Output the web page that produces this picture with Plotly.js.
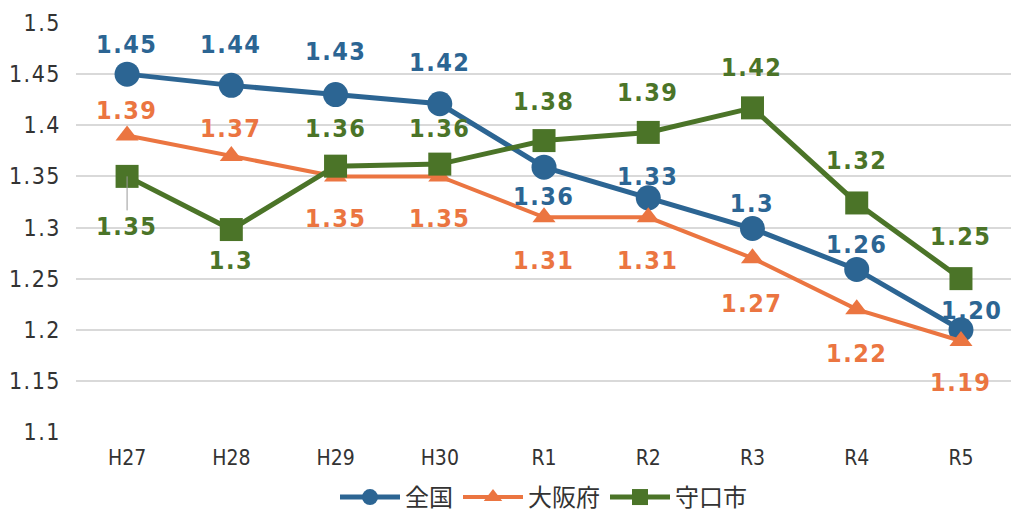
<!DOCTYPE html>
<html>
<head>
<meta charset="utf-8">
<script src="https://cdn.plot.ly/plotly-3.0.1.min.js"></script>
<style>
  html, body { margin: 0; padding: 0; background: #ffffff; }
  #chart { width: 1011px; height: 520px; }
  #chart .annotation-text, #chart .ytick text { letter-spacing: 1.5px; }
</style>
</head>
<body>
<div id="chart"></div>
<script>
const years = ["H27", "H28", "H29", "H30", "R1", "R2", "R3", "R4", "R5"];

// plotted values and the labels printed next to them
const zenkoku = [1.45, 1.439, 1.43, 1.421, 1.359, 1.329, 1.299, 1.259, 1.20];
const zenkokuText = ["1.45", "1.44", "1.43", "1.42", "1.36", "1.33", "1.3", "1.26", "1.20"];
const osaka = [1.39, 1.37, 1.35, 1.35, 1.31, 1.31, 1.27, 1.22, 1.189];
const osakaText = ["1.39", "1.37", "1.35", "1.35", "1.31", "1.31", "1.27", "1.22", "1.19"];
const moriguchi = [1.35, 1.298, 1.36, 1.362, 1.385, 1.393, 1.417, 1.324, 1.25];
const moriguchiText = ["1.35", "1.3", "1.36", "1.36", "1.38", "1.39", "1.42", "1.32", "1.25"];

const yTicks = [1.1, 1.15, 1.2, 1.25, 1.3, 1.35, 1.4, 1.45, 1.5];

const colors = { blue: "#2c6593", orange: "#eb7541", green: "#4b7428", ink: "#333333", grid: "#d9d9d9" };
const numFont = "DejaVu Sans Condensed, Liberation Sans Narrow, Arial Narrow, sans-serif";

// label placement, pixels from the point (x, y)
const zenkokuShift = [[0,-30],[0,-41],[0,-43],[0,-41],[0,29],[0,-21],[0,-25],[0,-25],[11,-19]];
const osakaShift = [[0,-25],[0,-27],[0,42],[0,42],[0,43],[0,43],[0,45],[0,44],[0,41]];
const moriguchiShift = [[0,50],[0,31],[0,-38],[0,-36],[0,-39],[0,-40],[0,-40],[0,-42],[0,-42]];

function labels(values, texts, shifts, color, leader = []) {
  return values.map((v, i) => ({
    x: years[i], y: v, text: texts[i], xref: "x", yref: "y",
    showarrow: true, arrowhead: 0, arrowwidth: 1,
    arrowcolor: leader.includes(i) ? "#9a9a9a" : "rgba(0,0,0,0)",
    standoff: 0, ax: shifts[i][0], ay: shifts[i][1],
    font: { family: numFont, size: 25, color, weight: "bold" }
  }));
}

const traces = [
  { x: years, y: zenkoku, name: "全国", type: "scatter", mode: "lines+markers",
    line: { color: colors.blue, width: 5 }, marker: { symbol: "circle", size: 25, color: colors.blue } },
  { x: years, y: osaka, name: "大阪府", type: "scatter", mode: "lines+markers",
    line: { color: colors.orange, width: 4 }, marker: { symbol: "triangle-up", size: 20, color: colors.orange } },
  { x: years, y: moriguchi, name: "守口市", type: "scatter", mode: "lines+markers",
    line: { color: colors.green, width: 5 }, marker: { symbol: "square", size: 23, color: colors.green } }
];

const layout = {
  width: 1011, height: 520,
  margin: { l: 76, r: 0, t: 23, b: 85 },
  paper_bgcolor: "#ffffff", plot_bgcolor: "#ffffff",
  font: { family: numFont, color: colors.ink },
  showlegend: true,
  legend: {
    orientation: "h", x: 0.5, xanchor: "center", y: -0.16, yanchor: "middle",
    font: { family: "Noto Sans CJK JP, sans-serif", size: 24, color: colors.ink },
    itemwidth: 60
  },
  xaxis: {
    type: "category", range: [-0.49, 8.48],
    showgrid: false, zeroline: false, showline: false, ticks: "",
    tickfont: { family: numFont, size: 21, color: colors.ink },
    ticklabelstandoff: 11
  },
  yaxis: {
    range: [1.1, 1.5], tickvals: yTicks, ticktext: yTicks.map(v => String(v)),
    gridcolor: colors.grid, gridwidth: 2, zeroline: false, showline: false, ticks: "",
    tickfont: { family: numFont, size: 23, color: colors.ink },
    ticklabelstandoff: 14
  },
  annotations: [
    ...labels(zenkoku, zenkokuText, zenkokuShift, colors.blue),
    ...labels(osaka, osakaText, osakaShift, colors.orange),
    ...labels(moriguchi, moriguchiText, moriguchiShift, colors.green, [0])
  ]
};

Plotly.newPlot("chart", traces, layout, { displayModeBar: false, staticPlot: true });
</script>
</body>
</html>
